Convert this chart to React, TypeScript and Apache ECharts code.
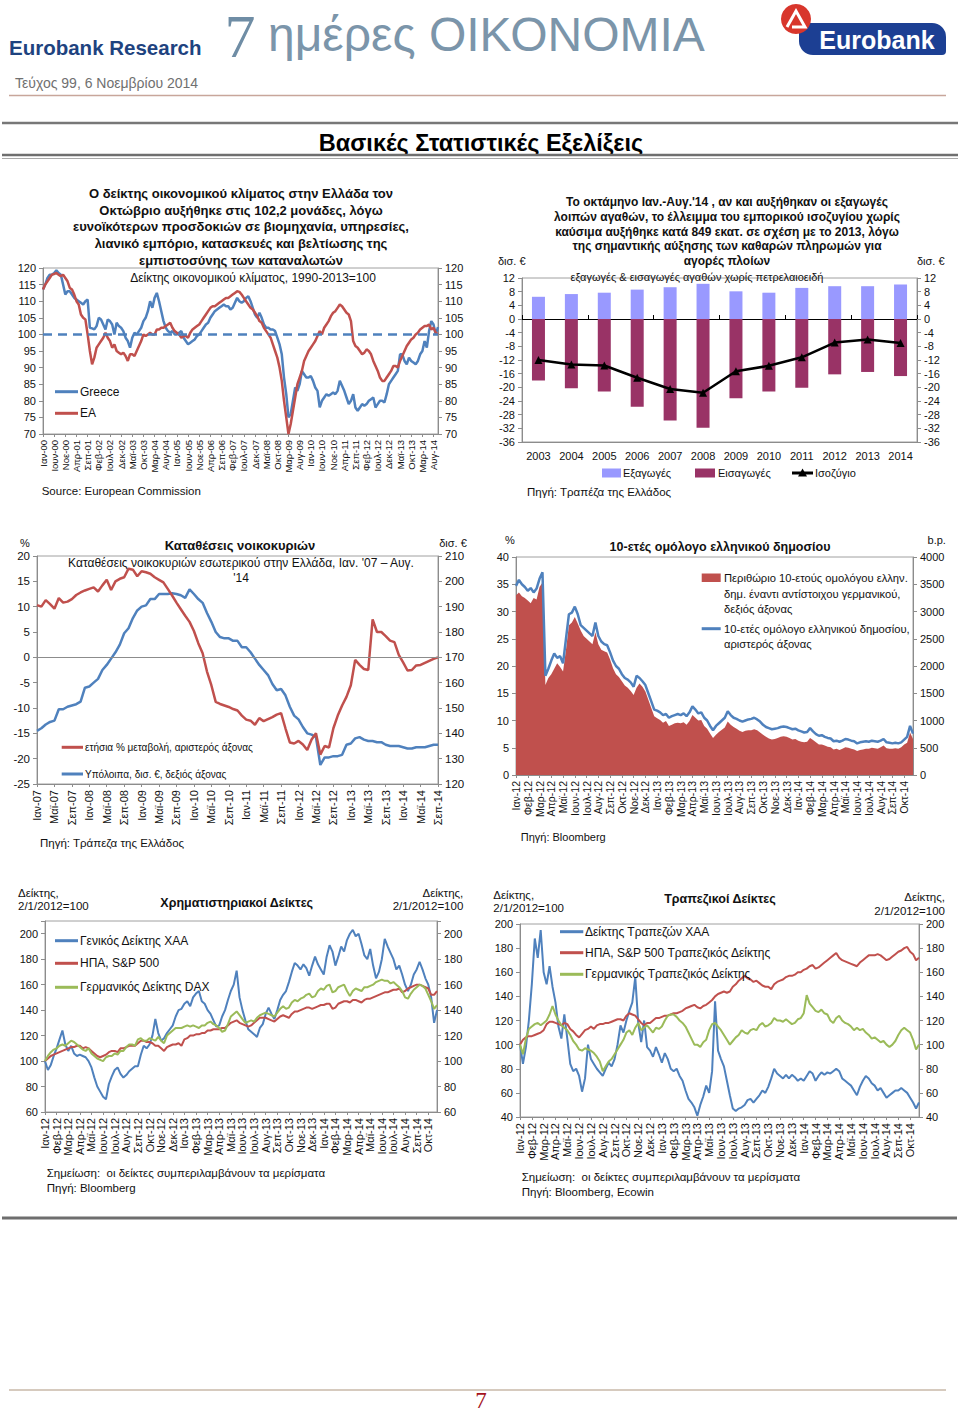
import React, { useEffect, useRef } from 'react';
import * as echarts from 'echarts';

const FONT = '"Liberation Sans", Arial, sans-serif';
const SERIF = '"Liberation Serif", "DejaVu Serif", serif';

const BLUE = '#4F81BD';
const RED = '#C0504D';
const GREEN = '#9BBB59';
const AXIS = '#8c8c8c';
const TXT = '#111111';

const MONTHS = ['Ιαν', 'Φεβ', 'Μαρ', 'Απρ', 'Μαϊ', 'Ιουν', 'Ιουλ', 'Αυγ', 'Σεπ', 'Οκτ', 'Νοε', 'Δεκ'];

// ---------- Chart 1: economic sentiment, monthly Jan-00 .. Oct-14 ----------
const C1_GREECE = [
  113.5, 115, 117, 118, 118, 118.5, 119.3, 118.5, 118, 115,
  112, 113, 113, 112, 111, 110.5, 110, 109.5, 109, 110,
  110.5, 102, 101.8, 101.5, 102.5, 105, 104.5, 103, 101.5, 104.5,
  104, 103, 100, 103.5, 102.5, 102, 101, 99, 98, 96,
  99, 100.5, 100, 101, 102, 104, 105, 107, 110, 108,
  111, 112.5, 110, 107, 104, 102, 101, 100.5, 101, 100,
  100, 100.5, 101, 99, 98, 97, 97.5, 98, 98.5, 99.5,
  100, 101, 102, 103, 103.5, 105, 106, 107, 107.5, 108,
  108.5, 109, 108.5, 108.5, 107.5, 108, 109.5, 111, 110, 109.5,
  110, 111, 111.5, 110, 108, 106, 105, 106.5, 105, 103,
  102, 102, 101.5, 101.5, 101, 99, 97, 94, 87, 82,
  75, 76, 80, 84, 83, 85, 89, 88, 87, 87,
  87.5, 86, 84, 83, 78, 80, 81, 82, 81.5, 82,
  82.5, 82, 83, 86, 84.5, 83, 81, 79, 80, 82,
  78, 77, 78, 79, 78.5, 79, 80, 80.5, 81, 78,
  79, 80, 80, 79.5, 82, 85, 86, 87, 88, 89,
  94, 94, 92, 91, 93, 92, 91.5, 91, 92, 94,
  95, 98, 96, 101, 104, 103, 100, 102.2,
];
const C1_EA = [
  113.5, 115, 116, 117, 118, 118.2, 118.5, 118, 117.5, 118,
  117, 116, 114, 113.5, 112, 110, 109, 106, 105, 104.5,
  100, 95, 91, 93, 96, 97, 98, 99, 100.5, 99,
  98, 96, 97, 95, 94.5, 94, 94.5, 93.5, 92, 94,
  94, 93.5, 95, 96.5, 98, 100, 99.5, 100, 100.5, 100,
  100, 101.5, 101.5, 102, 102, 102.5, 103, 103.5, 102, 101,
  100.5, 100, 99, 99.5, 99.5, 99, 100.5, 101.5, 102, 102.5,
  103, 104, 105, 106, 107, 108, 108.5, 108.5, 109, 109.5,
  110, 110.5, 111, 111, 111.5, 112, 112.5, 113, 112.8, 112,
  111, 110, 109, 108, 107.5, 106.5, 105.5, 104, 103.5, 102,
  101, 100, 99, 97, 95, 93, 90, 86, 80, 75,
  70, 73, 77, 81, 85, 87, 89, 92, 93.5, 95,
  96, 97, 98, 99.5, 101, 100, 102, 103, 104, 105.5,
  106.5, 107, 108, 109, 108.5, 107.5, 106.5, 106, 104, 98,
  96.5, 96, 95, 94, 94.5, 95.5, 95, 94, 92, 90.5,
  89, 87, 86, 86, 87, 88, 89, 90.5, 90.5, 90,
  92, 93.5, 95, 96.5, 97.5, 98.5, 99, 100, 100.5, 101.5,
  102, 102.5, 102.5, 103, 101.5, 102, 100.5, 100,
];

// ---------- Chart 2: trade balance ----------
const C2_YEARS = ['2003', '2004', '2005', '2006', '2007', '2008', '2009', '2010', '2011', '2012', '2013', '2014'];
const C2_EXPORTS = [6.5, 7.3, 7.7, 8.6, 9.3, 10.3, 8.1, 7.7, 9.1, 9.6, 9.6, 10.1];
const C2_IMPORTS = [-18.0, -20.3, -21.2, -25.7, -29.7, -31.8, -23.2, -21.2, -20.1, -16.2, -15.5, -16.7];
const C2_BALANCE = [-12.0, -13.3, -13.6, -17.2, -20.5, -21.6, -15.3, -13.7, -11.2, -6.9, -6.0, -7.0];

// ---------- Chart 3: household deposits, Jan-07 .. Sep-14 ----------
const C3_RATE = [
  10.3, 10, 11.3, 10.5, 9.6, 11.7, 10.8, 11, 11.5, 12.3,
  12.8, 13.2, 13.5, 13.8, 13, 14.2, 15.3, 13.3, 15, 15.5,
  15.8, 17.5, 17.3, 16, 17, 16.8, 16.5, 15.8, 15.3, 14.8,
  13.5, 12.2, 10.8, 9.5, 8.2, 7, 5.2, 2.8, 0.8, -2.8,
  -5.5, -8.8, -9.2, -9.5, -9.8, -10.2, -10.5, -11.5, -12.3, -12.5,
  -13.3, -12, -12.6, -12.2, -11.8, -11.3, -11, -14, -16.8, -17,
  -16.5, -17.2, -18.3, -16.2, -15, -19.2, -17.5, -17.8, -14, -11.5,
  -9.5, -7.8, -5.5, -0.5, -1.5, -2.3, -2.5, 7.5, 5, 5,
  4.2, 3.3, 3, 0.5, -1, -2.6, -2.5, -1.6, -1.5, -1.1,
  -0.7, -0.3, 0,
];
const C3_BALANCE = [
  141, 142, 143.5, 144.5, 145, 149.5, 149.5, 150.5, 151, 151.5,
  152.5, 158, 158.5, 160, 161.5, 165, 167, 169.5, 172, 175,
  179.5, 181.5, 185.5, 188.5, 190, 190.5, 193, 193, 195, 195,
  195, 195.3, 195, 194.5, 193.5, 196.8, 195, 193, 191.5, 187.5,
  184, 180, 178, 177.5, 177.5, 176.5, 176.5, 174, 174, 172,
  169.5, 167, 165, 163, 159.5, 157, 157.5, 155, 150.5, 147,
  145.5, 142.5, 140, 139.5, 138.5, 127.5, 130.5, 130.5, 131, 131,
  131.5, 135.5, 136, 138, 138.5, 137.5, 137, 137, 136.5, 136.5,
  135.5, 135, 135, 135, 134.5, 134, 134, 134.5, 134.5, 134.5,
  135, 135.5, 135.5,
];

// ---------- Chart 4: 10y bond (4 readings per month, Jan-12 .. Oct-14) ----------
const C4_YIELD = [
  34.7, 35.8, 35, 34.5, 33.8, 34.3, 33.5, 34.2, 36, 37.2, 18.2, 19.5,
  21, 22.3, 21.5, 21.8, 20.5, 25, 29.5, 29.8, 30.9, 29.5, 27.5, 27,
  26.5, 26, 25.5, 28, 25.5, 24.5, 24, 23.8, 22.5, 21, 20, 19.5,
  18.5, 17.8, 17.5, 17, 16.2, 18.2, 17.8, 17.2, 16.5, 15, 13.5, 12,
  11.8, 11.5, 11, 11.2, 10.5, 10.8, 11, 11.2, 11, 11.3, 10.8, 11.5,
  12.6, 12, 11.3, 11.5, 10.5, 10, 9, 8.2, 9, 9.5, 10, 10.5,
  11.7, 11, 10.5, 10.3, 10, 9.8, 10, 10.2, 10.3, 10.5, 10.2, 9.8,
  9.2, 8.8, 8.6, 8.4, 8.5, 8.6, 8.8, 8.9, 8.8, 8.6, 8.4, 8.5,
  8.2, 8, 7.8, 7.9, 8.6, 8, 7.5, 7.2, 7.3, 7, 6.8, 6.7,
  6.2, 6.3, 6.1, 6.3, 6.6, 6.5, 6.3, 6.2, 5.8, 6, 6.1, 6.2,
  6.1, 6.3, 6.2, 6.1, 6.3, 6.6, 6, 5.9, 5.8, 5.9, 5.8, 6,
  6.5, 7, 9, 7.6,
];
const C4_SPREAD = [
  3300, 3350, 3280, 3250, 3200, 3150, 3250, 3220, 3450, 3530, 1650, 1780,
  1850, 1950, 2050, 1980, 1900, 2300, 2750, 2800, 2900, 2780, 2650, 2550,
  2500, 2450, 2400, 2620, 2400, 2300, 2270, 2250, 2120, 1960, 1850, 1800,
  1720, 1640, 1600, 1540, 1470, 1600, 1680, 1620, 1530, 1380, 1230, 1080,
  1040, 1010, 960, 990, 900, 920, 950, 960, 950, 970, 920, 990,
  1100, 1050, 1000, 1010, 900, 850, 760, 680, 740, 790, 830, 870,
  980, 920, 880, 850, 810, 790, 810, 820, 820, 840, 820, 780,
  740, 700, 670, 650, 660, 680, 700, 710, 700, 680, 650, 660,
  630, 610, 600, 610, 680, 640, 600, 560, 560, 540, 520, 510,
  470, 480, 460, 480, 510, 500, 480, 470, 440, 460, 470, 480,
  480, 500, 490, 480, 510, 540, 490, 480, 480, 490, 480, 510,
  560, 590, 780, 660,
];

// ---------- Chart 5: stock indices ----------
const C5_ATHEX = [
  100, 93, 97, 104, 110, 117, 124, 113, 108, 112, 106, 104,
  105, 104, 103, 100, 95, 87, 80, 76, 72, 70, 82, 88,
  93, 95, 90, 87, 89, 92, 94, 96, 96, 105, 112, 110,
  113, 120, 133, 122, 116, 118, 122, 125, 128, 135, 140, 141,
  145, 147, 143, 150, 153, 155, 147, 145, 140, 137, 132, 127,
  128, 135, 140, 148, 155, 160, 171, 150, 140, 132, 125, 123,
  121, 119, 126, 129, 137, 142, 137, 133, 140, 148, 152, 155,
  162, 170, 177, 175, 172, 176, 173, 167, 175, 182, 176, 172,
  168, 182, 191, 186, 175, 182, 190, 186, 195, 200, 203, 198,
  200, 192, 183, 180, 188, 175, 165, 170, 180, 196, 190, 185,
  180, 172, 175, 168, 160, 155, 160, 168, 172, 178, 172, 165,
  160, 150, 130, 140,
];
const C5_SP500 = [
  100, 102, 104, 105, 106, 107, 108, 109, 110, 111, 111, 112,
  112, 110, 111, 110, 108, 106, 104, 103, 104, 105, 107, 108,
  108, 107, 110, 110, 111, 112, 112, 112, 114, 116, 116, 115,
  115, 114, 112, 112, 110, 108, 111, 112, 113, 113, 114, 112,
  117, 118, 120, 120, 121, 121, 122, 122, 124, 124, 125, 125,
  125, 126, 126, 128, 130, 131, 132, 130, 129, 128, 127, 128,
  130, 132, 134, 134, 134, 133, 132, 131, 133, 135, 136, 135,
  134, 137, 139, 139, 140, 141, 142, 142, 141, 142, 143, 144,
  144, 145, 145, 141, 142, 145, 146, 147, 147, 146, 148, 148,
  147, 146, 148, 149, 149, 150, 151, 152, 153, 154, 154, 155,
  156, 156, 157, 154, 155, 157, 158, 159, 160, 160, 159, 158,
  157, 152, 152, 155,
];
const C5_DAX = [
  100, 104, 107, 109, 110, 112, 113, 112, 114, 116, 115, 113,
  111, 109, 108, 110, 106, 104, 102, 101, 100, 103, 104, 104,
  106, 105, 108, 108, 111, 113, 113, 112, 117, 118, 116, 116,
  118, 117, 116, 119, 116, 114, 120, 122, 124, 126, 126, 126,
  127, 128, 127, 128, 127, 126, 128, 128, 130, 131, 129, 128,
  126, 123, 124, 129, 135, 137, 139, 136, 133, 130, 131, 132,
  131, 134, 136, 137, 138, 137, 136, 135, 138, 141, 143, 141,
  142, 146, 148, 147, 149, 150, 152, 153, 150, 151, 155, 157,
  156, 159, 160, 154, 155, 158, 159, 160, 155, 151, 155, 157,
  156, 155, 158, 158, 159, 160, 162, 163, 164, 163, 163, 161,
  162, 160, 158, 155, 150, 149, 153, 156, 158, 160, 159, 157,
  152, 147, 141, 144,
];

// ---------- Chart 6: bank indices ----------
const C6_ATHEX_BANKS = [
  100, 84, 98, 120, 150, 188, 172, 195, 160, 150, 165, 148,
  135, 115, 105, 125, 105, 84, 78, 80, 74, 61, 72, 100,
  88, 84, 80, 77, 74, 80, 85, 82, 88, 100, 116, 110,
  120, 128, 135, 156, 118, 102, 120, 98, 95, 90, 98, 92,
  85, 93, 88, 80, 78, 80, 74, 70, 62, 55, 52, 48,
  41, 50, 57, 66, 60, 78, 136, 95, 88, 82, 70, 58,
  47, 45, 47, 48, 50, 54, 55, 52, 55, 58, 62, 60,
  65, 72, 80, 76, 74, 72, 75, 72, 75, 73, 70, 72,
  70, 74, 78, 76, 70, 74, 77, 75, 77, 76, 78, 80,
  78, 72, 70, 68, 66, 62, 58, 65, 70, 74, 72, 68,
  66, 62, 64, 60, 56, 58, 60, 62, 62, 64, 62, 60,
  56, 52, 47, 52,
];
const C6_SP500_BANKS = [
  100, 104, 106, 107, 107, 108, 109, 110, 112, 117, 119, 119,
  118, 117, 116, 118, 117, 113, 111, 108, 106, 109, 112, 113,
  115, 113, 116, 117, 117, 118, 118, 119, 120, 121, 121, 120,
  124, 126, 125, 124, 121, 118, 116, 118, 118, 120, 122, 122,
  123, 124, 124, 125, 126, 126, 127, 128, 130, 131, 132, 133,
  131, 130, 132, 133, 135, 137, 140, 142, 143, 144, 143, 144,
  148, 150, 153, 155, 157, 155, 154, 152, 153, 151, 149, 148,
  148, 146, 150, 152, 153, 154, 156, 157, 157, 158, 160, 160,
  162, 163, 165, 166, 163, 164, 166, 168, 170, 172, 174, 176,
  172, 170, 169, 168, 167, 166, 165, 168, 170, 172, 174, 174,
  174, 175, 174, 172, 170, 171, 173, 175, 177, 178, 180, 181,
  177, 175, 170, 172,
];
const C6_DE_BANKS = [
  100, 92, 105, 113, 115, 117, 118, 116, 118, 120, 125, 132,
  125, 120, 116, 114, 112, 108, 103, 100, 96, 95, 97, 96,
  95, 93, 90, 86, 78, 82, 86, 88, 92, 96, 100, 104,
  110, 112, 108, 114, 118, 112, 114, 116, 113, 110, 114, 113,
  115, 120, 124, 125, 125, 123, 120, 118, 115, 110, 105, 100,
  100, 98, 102, 104, 112, 117, 118, 115, 112, 108, 104, 100,
  103, 106, 108, 112, 110, 109, 112, 113, 112, 116, 118, 115,
  116, 118, 122, 120, 120, 119, 121, 119, 117, 118, 121, 122,
  126, 141, 134, 131, 128, 127, 129, 126, 125, 120, 118, 122,
  124, 120, 118, 117, 115, 112, 114, 112, 113, 110, 108, 105,
  106, 104, 102, 103, 100, 98, 100, 103, 108, 112, 114, 112,
  110, 104, 96, 100,
];

// ---------- category builders ----------
function monthLabels(startYear: number, startMonth: number, count: number): string[] {
  const out: string[] = [];
  for (let k = 0; k < count; k++) {
    const m = (startMonth + k) % 12;
    const y = startYear + Math.floor((startMonth + k) / 12);
    out.push(`${MONTHS[m]}-${String(y).slice(2)}`);
  }
  return out;
}
const C1_CATS = monthLabels(2000, 0, C1_GREECE.length);
const C3_CATS = monthLabels(2007, 0, C3_RATE.length);
const WEEK_MONTHS = monthLabels(2012, 0, 34);
const WEEK_CATS = WEEK_MONTHS.flatMap((m) => [0, 1, 2, 3].map((k) => `${m}|${k}`));

// ---------- helpers ----------
const plain = (v: number) => String(v);

function valAxis(gridIndex: number, position: string, min: number, max: number, interval: number, fontSize = 11, formatter: any = plain) {
  return {
    type: 'value', gridIndex, position, min, max, interval,
    axisLine: { show: true, lineStyle: { color: AXIS, width: 1 } },
    axisTick: { show: true, length: 4, lineStyle: { color: AXIS } },
    splitLine: { show: false },
    axisLabel: { fontFamily: FONT, fontSize, color: TXT, margin: 7, formatter },
  };
}
function catAxis(gridIndex: number, data: string[], interval: number, fontSize: number, formatter?: any) {
  return {
    type: 'category', gridIndex, data, boundaryGap: false, position: 'bottom',
    axisLine: { show: true, onZero: false, lineStyle: { color: AXIS } },
    axisTick: { show: true, interval, length: 3, lineStyle: { color: AXIS } },
    axisLabel: { interval, rotate: 90, fontFamily: FONT, fontSize, color: TXT, margin: 6, formatter },
    splitLine: { show: false },
  };
}
function grid(left: number, top: number, width: number, height: number) {
  return { left, top, width, height, show: true, borderColor: '#a0a0a0', borderWidth: 1, backgroundColor: 'transparent', containLabel: false };
}
function lineSeries(name: string, data: number[], xAxisIndex: number, yAxisIndex: number, color: string, width: number, extra: any = {}) {
  return {
    name, type: 'line', data, xAxisIndex, yAxisIndex, showSymbol: false, symbol: 'none',
    lineStyle: { color, width }, itemStyle: { color }, silent: true, ...extra,
  };
}
function T(text: string, x: number, y: number, o: any = {}) {
  const align = o.align || 'left';
  return {
    type: 'text', x, y, z: 100, silent: true,
    style: {
      text, fill: o.color || TXT,
      fontFamily: o.family || FONT, fontSize: o.size || 11, fontWeight: o.bold ? 'bold' : 'normal',
      textAlign: align, align, textVerticalAlign: 'middle', verticalAlign: 'middle',
    },
  };
}
function L(x1: number, y1: number, x2: number, y2: number, stroke: string, lineWidth: number) {
  return { type: 'line', z: 100, silent: true, shape: { x1, y1, x2, y2 }, style: { stroke, lineWidth } };
}
function R(x: number, y: number, width: number, height: number, fill: string, r = 0) {
  return { type: 'rect', z: 100, silent: true, shape: { x, y, width, height, r }, style: { fill } };
}

function buildOption() {
  const weekFmt = (v: string) => v.split('|')[0];
  const cap200 = (v: number) => (v > 200 ? '' : String(v));

  const grids = [
    grid(43, 268, 395, 166), // 0 sentiment
    grid(522, 278, 395, 164), // 1 trade
    grid(37, 556, 401, 228), // 2 deposits
    grid(516, 557, 397, 218), // 3 bond
    grid(45, 921, 392, 191), // 4 stocks
    grid(520, 924, 399, 193), // 5 banks
  ];

  const xAxis: any[] = [
    catAxis(0, C1_CATS, 4, 9.5),
    {
      type: 'category', gridIndex: 1, data: C2_YEARS, position: 'bottom',
      axisLine: { show: true, onZero: false, lineStyle: { color: AXIS } },
      axisTick: { show: false },
      axisLabel: { fontFamily: FONT, fontSize: 11, color: TXT, margin: 8 },
    },
    {
      type: 'category', gridIndex: 1, data: C2_YEARS,
      axisLine: { show: true, onZero: true, lineStyle: { color: '#000', width: 1.2 } },
      axisTick: { show: true, length: 4, lineStyle: { color: '#000' } },
      axisLabel: { show: false },
    },
    catAxis(2, C3_CATS, 3, 11),
    catAxis(3, WEEK_CATS, 3, 10.5, weekFmt),
    catAxis(4, WEEK_CATS, 3, 11, weekFmt),
    catAxis(5, WEEK_CATS, 3, 11, weekFmt),
  ];

  const yAxis: any[] = [
    valAxis(0, 'left', 70, 120, 5, 11),
    valAxis(0, 'right', 70, 120, 5, 11),
    valAxis(1, 'left', -36, 12, 4, 11),
    valAxis(1, 'right', -36, 12, 4, 11),
    valAxis(2, 'left', -25, 20, 5, 11.5),
    valAxis(2, 'right', 120, 210, 10, 11.5),
    valAxis(3, 'left', 0, 40, 5, 11),
    valAxis(3, 'right', 0, 4000, 500, 11),
    valAxis(4, 'left', 60, 210, 20, 11, cap200),
    valAxis(4, 'right', 60, 210, 20, 11, cap200),
    valAxis(5, 'left', 40, 200, 20, 11),
    valAxis(5, 'right', 40, 200, 20, 11),
  ];

  const series: any[] = [
    // chart 1
    lineSeries('Greece', C1_GREECE, 0, 0, BLUE, 2.5, {
      markLine: {
        silent: true, symbol: 'none', label: { show: false },
        lineStyle: { color: BLUE, width: 2.5, type: [9, 6] },
        data: [{ yAxis: 100 }],
      },
    }),
    lineSeries('EA', C1_EA, 0, 0, RED, 2.5),
    // chart 2
    {
      name: 'Εξαγωγές', type: 'bar', data: C2_EXPORTS, xAxisIndex: 1, yAxisIndex: 2,
      barWidth: 13, barGap: '-100%', itemStyle: { color: '#9999FF' }, silent: true,
    },
    {
      name: 'Εισαγωγές', type: 'bar', data: C2_IMPORTS, xAxisIndex: 1, yAxisIndex: 2,
      barWidth: 13, barGap: '-100%', itemStyle: { color: '#993366' }, silent: true,
    },
    {
      name: 'Ισοζύγιο', type: 'line', data: C2_BALANCE, xAxisIndex: 1, yAxisIndex: 2,
      symbol: 'triangle', symbolSize: 8, lineStyle: { color: '#000', width: 2.5 },
      itemStyle: { color: '#000' }, silent: true, z: 5,
    },
    // chart 3
    lineSeries('Υπόλοιπα', C3_BALANCE, 3, 5, BLUE, 2.5),
    lineSeries('ετήσια % μεταβολή', C3_RATE, 3, 4, RED, 2.5, {
      markLine: {
        silent: true, symbol: 'none', label: { show: false },
        lineStyle: { color: AXIS, width: 1, type: 'solid' },
        data: [{ yAxis: 0 }],
      },
    }),
    // chart 4
    {
      name: 'Περιθώριο', type: 'line', data: C4_SPREAD, xAxisIndex: 4, yAxisIndex: 7,
      showSymbol: false, symbol: 'none', lineStyle: { width: 0, color: RED },
      areaStyle: { color: RED, opacity: 1 }, itemStyle: { color: RED }, silent: true,
    },
    lineSeries('10-ετές', C4_YIELD, 4, 6, BLUE, 2.5),
    // chart 5
    lineSeries('Γενικός Δείκτης ΧΑΑ', C5_ATHEX, 5, 8, BLUE, 2),
    lineSeries('ΗΠΑ, S&P 500', C5_SP500, 5, 8, RED, 2),
    lineSeries('Γερμανικός Δείκτης DAX', C5_DAX, 5, 8, GREEN, 2),
    // chart 6
    lineSeries('Δείκτης Τραπεζών ΧΑΑ', C6_ATHEX_BANKS, 6, 10, BLUE, 2),
    lineSeries('ΗΠΑ, S&P 500 Τραπεζικός Δείκτης', C6_SP500_BANKS, 6, 10, RED, 2),
    lineSeries('Γερμανικός Τραπεζικός Δείκτης', C6_DE_BANKS, 6, 10, GREEN, 2),
  ];

  const g: any[] = [];
  // ---- header ----
  g.push(T('Eurobank Research', 9, 47, { size: 20.5, bold: true, color: '#1E437F' }));
  g.push(T('7', 240, 36, { family: SERIF, size: 62, color: '#6F8DA5', align: 'center' }));
  g.push(T('ημέρες ΟΙΚΟΝΟΜΙΑ', 268, 34, { size: 48, color: '#7B95AA' }));
  g.push({ type: 'rect', z: 100, silent: true, shape: { x: 799, y: 23, width: 147, height: 32, r: [4, 14, 4, 14] }, style: { fill: '#1C3F93' } });
  g.push({ type: 'circle', z: 101, silent: true, shape: { cx: 796, cy: 19, r: 15 }, style: { fill: '#D8362C' } });
  g.push({ type: 'polyline', z: 102, silent: true, shape: { points: [[787, 27], [796, 11], [805, 27], [792, 27]] }, style: { stroke: '#ffffff', lineWidth: 3, fill: null } });
  g.push(T('Eurobank', 877, 40, { size: 25, bold: true, color: '#ffffff', align: 'center' }));
  g.push(T('Τεύχος 99, 6 Νοεμβρίου 2014', 15, 83, { size: 14, color: '#707070' }));
  g.push(L(9, 95.5, 946, 95.5, '#C8A69B', 1.5));
  g.push(L(2, 123, 958, 123, '#777777', 2.5));
  g.push(T('Βασικές Στατιστικές Εξελίξεις', 481, 143, { size: 23.5, bold: true, color: '#000', align: 'center' }));
  g.push(L(2, 155, 958, 155, '#6F6F6F', 2.5));
  g.push(L(2, 158.5, 958, 158.5, '#a8a8a8', 1));

  // ---- chart 1 texts ----
  const c1Title = [
    'Ο δείκτης οικονομικού κλίματος στην Ελλάδα τον',
    'Οκτώβριο αυξήθηκε στις 102,2 μονάδες, λόγω',
    'ευνοϊκότερων προσδοκιών σε βιομηχανία, υπηρεσίες,',
    'λιανικό εμπόριο, κατασκευές και βελτίωσης της',
    'εμπιστοσύνης των καταναλωτών',
  ];
  c1Title.forEach((s, i) => g.push(T(s, 241, 193.3 + i * 16.7, { size: 13, bold: true, align: 'center' })));
  g.push(T('Δείκτης οικονομικού κλίματος, 1990-2013=100', 253, 277.7, { size: 12, align: 'center' }));
  g.push(L(55, 391.7, 78, 391.7, BLUE, 3));
  g.push(T('Greece', 80, 391.7, { size: 12 }));
  g.push(L(55, 413.3, 78, 413.3, RED, 3));
  g.push(T('EA', 80, 413.3, { size: 12 }));
  g.push(T('Source: European Commission', 41.7, 490.7, { size: 11.5 }));

  // ---- chart 2 texts ----
  const c2Title = [
    "Το οκτάμηνο Ιαν.-Αυγ.'14 , αν και αυξήθηκαν οι εξαγωγές",
    'λοιπών αγαθών, το έλλειμμα του εμπορικού ισοζυγίου χωρίς',
    'καύσιμα αυξήθηκε κατά 849 εκατ. σε σχέση με το 2013, λόγω',
    'της σημαντικής αύξησης των καθαρών πληρωμών για',
    'αγορές πλοίων',
  ];
  c2Title.forEach((s, i) => g.push(T(s, 727, 201.7 + i * 14.9, { size: 12, bold: true, align: 'center' })));
  g.push(T('δισ. €', 498, 261, { size: 11 }));
  g.push(T('δισ. €', 917, 261, { size: 11 }));
  g.push(T('εξαγωγές & εισαγωγές αγαθών χωρίς πετρελαιοειδή', 697, 277, { size: 11, align: 'center' }));
  g.push(R(602, 468.5, 19, 9, '#9999FF'));
  g.push(T('Εξαγωγές', 623, 473, { size: 11 }));
  g.push(R(695, 468.5, 20, 9, '#993366'));
  g.push(T('Εισαγωγές', 718, 473, { size: 11 }));
  g.push(L(792, 473, 813, 473, '#000', 3));
  g.push({ type: 'polygon', z: 101, silent: true, shape: { points: [[802.5, 468.5], [807, 476.5], [798, 476.5]] }, style: { fill: '#000' } });
  g.push(T('Ισοζύγιο', 815, 473, { size: 11 }));
  g.push(T('Πηγή: Τραπέζα της Ελλάδος', 527, 491.7, { size: 11.5 }));

  // ---- chart 3 texts ----
  g.push(T('%', 25, 542.7, { size: 11, align: 'center' }));
  g.push(T('Καταθέσεις νοικοκυριών', 240, 545, { size: 13, bold: true, align: 'center' }));
  g.push(T('δισ. €', 453, 542.7, { size: 11, align: 'center' }));
  g.push(T("Καταθέσεις νοικοκυριών εσωτερικού στην Ελλάδα, Ιαν. '07 – Αυγ.", 241, 562.7, { size: 12, align: 'center' }));
  g.push(T("'14", 241, 577.7, { size: 12, align: 'center' }));
  g.push(L(61.7, 747.3, 83, 747.3, RED, 3));
  g.push(T('ετήσια % μεταβολή, αριστερός άξονας', 85, 747.3, { size: 10 }));
  g.push(L(61.7, 774, 83, 774, BLUE, 3));
  g.push(T('Υπόλοιπα, δισ. €, δεξιός άξονας', 85, 774, { size: 10 }));
  g.push(T('Πηγή: Τράπεζα της Ελλάδος', 40, 842.7, { size: 11.5 }));

  // ---- chart 4 texts ----
  g.push(T('%', 510, 540, { size: 11, align: 'center' }));
  g.push(T('10-ετές ομόλογο ελληνικού δημοσίου', 720, 547.3, { size: 12.5, bold: true, align: 'center' }));
  g.push(T('b.p.', 936.7, 540, { size: 11, align: 'center' }));
  g.push(R(701.7, 573.5, 19, 8.5, RED));
  g.push(T('Περιθώριο 10-ετούς ομολόγου ελλην.', 724, 577.7, { size: 11.2 }));
  g.push(T('δημ. έναντι αντίστοιχου γερμανικού,', 724, 594, { size: 11.2 }));
  g.push(T('δεξιός άξονας', 724, 609.3, { size: 11.2 }));
  g.push(L(701.7, 628.7, 720.7, 628.7, BLUE, 3));
  g.push(T('10-ετές ομόλογο ελληνικού δημοσίου,', 724, 628.7, { size: 11.2 }));
  g.push(T('αριστερός άξονας', 724, 644.3, { size: 11.2 }));
  g.push(T('Πηγή: Bloomberg', 520.7, 837.3, { size: 11 }));

  // ---- chart 5 texts ----
  g.push(T('Δείκτης,', 18, 892.7, { size: 11.5 }));
  g.push(T('2/1/2012=100', 18, 906, { size: 11.5 }));
  g.push(T('Δείκτης,', 463.3, 892.7, { size: 11.5, align: 'right' }));
  g.push(T('2/1/2012=100', 463.3, 906, { size: 11.5, align: 'right' }));
  g.push(T('Χρηματιστηριακοί Δείκτες', 236.7, 903.3, { size: 12.5, bold: true, align: 'center' }));
  g.push(L(55, 940.7, 78, 940.7, BLUE, 3));
  g.push(T('Γενικός Δείκτης ΧΑΑ', 80, 940.7, { size: 12 }));
  g.push(L(55, 963.3, 78, 963.3, RED, 3));
  g.push(T('ΗΠΑ, S&P 500', 80, 963.3, { size: 12 }));
  g.push(L(55, 987.3, 78, 987.3, GREEN, 3));
  g.push(T('Γερμανικός Δείκτης DAX', 80, 987.3, { size: 12 }));
  g.push(T('Σημείωση:  οι δείκτες συμπεριλαμβάνουν τα μερίσματα', 46.7, 1173.3, { size: 11.5 }));
  g.push(T('Πηγή: Bloomberg', 46.7, 1188.3, { size: 11.5 }));

  // ---- chart 6 texts ----
  g.push(T('Δείκτης,', 493.3, 895, { size: 11.5 }));
  g.push(T('2/1/2012=100', 493.3, 908.3, { size: 11.5 }));
  g.push(T('Δείκτης,', 945, 896.7, { size: 11.5, align: 'right' }));
  g.push(T('2/1/2012=100', 945, 910.7, { size: 11.5, align: 'right' }));
  g.push(T('Τραπεζικοί Δείκτες', 720, 899.3, { size: 12.5, bold: true, align: 'center' }));
  g.push(L(560, 931.7, 583.3, 931.7, BLUE, 3));
  g.push(T('Δείκτης Τραπεζών ΧΑΑ', 585, 931.7, { size: 12 }));
  g.push(L(560, 952.7, 583.3, 952.7, RED, 3));
  g.push(T('ΗΠΑ, S&P 500 Τραπεζικός Δείκτης', 585, 952.7, { size: 12 }));
  g.push(L(560, 974.3, 583.3, 974.3, GREEN, 3));
  g.push(T('Γερμανικός Τραπεζικός Δείκτης', 585, 974.3, { size: 12 }));
  g.push(T('Σημείωση:  οι δείκτες συμπεριλαμβάνουν τα μερίσματα', 521.7, 1176.7, { size: 11.5 }));
  g.push(T('Πηγή: Bloomberg, Ecowin', 521.7, 1191.7, { size: 11.5 }));

  // ---- footer ----
  g.push(L(2, 1218, 957, 1218, '#6e6e6e', 3));
  g.push(L(9, 1390, 946, 1390, '#C8B8A8', 1.5));
  g.push(T('7', 481, 1400, { family: SERIF, size: 23, color: '#A4121C', align: 'center' }));

  return {
    animation: false,
    backgroundColor: '#ffffff',
    textStyle: { fontFamily: FONT },
    grid: grids,
    xAxis,
    yAxis,
    series,
    graphic: { elements: g },
  };
}

export default function App() {
  const ref = useRef<HTMLDivElement>(null);
  useEffect(() => {
    if (!ref.current) return;
    const chart = echarts.init(ref.current, null, { renderer: 'svg' });
    chart.setOption(buildOption() as any);
    return () => chart.dispose();
  }, []);
  return (
    <div
      ref={ref}
      style={{ position: 'absolute', left: 0, top: 0, width: 960, height: 1415, background: '#fff' }}
    />
  );
}
